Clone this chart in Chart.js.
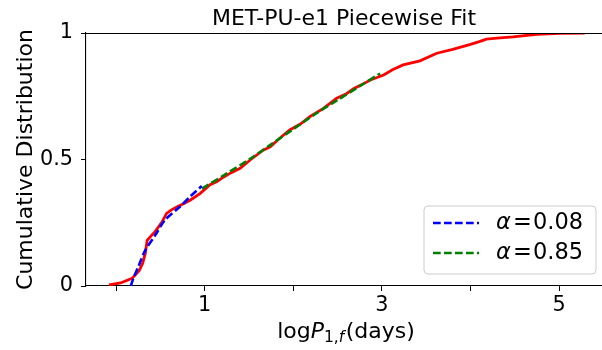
<!DOCTYPE html>
<html><head><meta charset="utf-8">
<script src="https://cdn.jsdelivr.net/npm/chart.js@4/dist/chart.umd.min.js"></script>
<style>html,body{margin:0;padding:0;background:#fff;}#wrap{width:602px;height:350px;position:relative;}</style>
</head><body><div id="wrap"><canvas id="c" width="602" height="350"></canvas></div>
<script>
const titleText = "MET-PU-e1 Piecewise Fit";
const yTitle = "Cumulative Distribution";
const xTicksShown = [1, 3, 5];
const yTickValues = [0, 0.5, 1];

const empX = [-0.08, 0.05, 0.18, 0.26, 0.30, 0.33, 0.35, 0.40, 0.44, 0.52, 0.57, 0.62, 0.69, 0.76, 0.84, 0.95, 1.06, 1.14, 1.21, 1.30, 1.40, 1.52, 1.66, 1.74, 1.85, 1.96, 2.08, 2.19, 2.34, 2.49, 2.60, 2.68, 2.78, 2.87, 3.02, 3.12, 3.24, 3.43, 3.62, 3.80, 4.00, 4.10, 4.18, 4.30, 4.48, 4.75, 5.01, 5.29];
const empY = [0.004, 0.012, 0.03, 0.06, 0.09, 0.13, 0.18, 0.20, 0.215, 0.254, 0.287, 0.30, 0.313, 0.325, 0.34, 0.366, 0.40, 0.413, 0.43, 0.448, 0.465, 0.50, 0.537, 0.55, 0.585, 0.617, 0.64, 0.67, 0.702, 0.742, 0.76, 0.78, 0.797, 0.814, 0.834, 0.855, 0.874, 0.89, 0.92, 0.935, 0.955, 0.966, 0.976, 0.98, 0.985, 0.995, 0.999, 1.0];

const fit1Label = "0.08";
const fit1X = [0.165, 0.20, 0.25, 0.33, 0.44, 0.55, 0.72, 0.835, 0.967];
const fit1Y = [0.0, 0.035, 0.076, 0.142, 0.20, 0.26, 0.313, 0.353, 0.395];

const fit2Label = "0.85";
const fit2X = [0.97, 1.25, 1.5, 1.75, 2.0, 2.25, 2.5, 2.75, 2.98];
const fit2Y = [0.385, 0.445, 0.50, 0.56, 0.62, 0.68, 0.735, 0.79, 0.84];

const pts = (xs, ys) => xs.map((x, i) => ({x: x, y: ys[i]}));
const FONT = "'DejaVu Sans', sans-serif";

const decor = {
  id: 'decor',
  afterDraw(chart) {
    const ctx = chart.ctx, a = chart.chartArea;
    ctx.save();
    ctx.strokeStyle = '#000'; ctx.lineWidth = 1.1;
    ctx.beginPath(); ctx.moveTo(a.left, a.top + 0.5); ctx.lineTo(a.right, a.top + 0.5); ctx.stroke();
    ctx.fillStyle = '#000';
    ctx.font = "22px " + FONT; ctx.textAlign = 'center'; ctx.textBaseline = 'alphabetic';
    ctx.fillText(titleText, (a.left + a.right) / 2, 25);
    ctx.save();
    ctx.translate(32, (a.top + a.bottom) / 2);
    ctx.rotate(-Math.PI / 2);
    ctx.font = "22px " + FONT; ctx.textAlign = 'center'; ctx.textBaseline = 'alphabetic';
    ctx.fillText(yTitle, 0, 0);
    ctx.restore();
    const parts = [
      {t: 'log', f: "22px " + FONT, dy: 0},
      {t: 'P', f: "italic 22px " + FONT, dy: 0},
      {t: '1,', f: "15.5px " + FONT, dy: 4},
      {t: 'f', f: "italic 15.5px " + FONT, dy: 4},
      {t: '(days)', f: "22px " + FONT, dy: 0}
    ];
    let total = 0;
    parts.forEach(p => { ctx.font = p.f; p.w = ctx.measureText(p.t).width; total += p.w; });
    total += 1.5;
    let x = (a.left + a.right) / 2 + 2 - total / 2;
    ctx.textAlign = 'left';
    parts.forEach(p => { ctx.font = p.f; ctx.fillText(p.t, x, 338 + p.dy); x += p.w + (p.t === 'f' ? 1.5 : 0); });
    const bx = 424, by = 206, bw = 172, bh = 68, r = 4;
    ctx.fillStyle = 'rgba(255,255,255,0.8)';
    ctx.strokeStyle = '#cccccc'; ctx.lineWidth = 1;
    ctx.beginPath();
    ctx.moveTo(bx + r, by); ctx.lineTo(bx + bw - r, by); ctx.quadraticCurveTo(bx + bw, by, bx + bw, by + r);
    ctx.lineTo(bx + bw, by + bh - r); ctx.quadraticCurveTo(bx + bw, by + bh, bx + bw - r, by + bh);
    ctx.lineTo(bx + r, by + bh); ctx.quadraticCurveTo(bx, by + bh, bx, by + bh - r);
    ctx.lineTo(bx, by + r); ctx.quadraticCurveTo(bx, by, bx + r, by);
    ctx.closePath(); ctx.fill(); ctx.stroke();
    const items = [
      {ds: chart.data.datasets[0], y: 223},
      {ds: chart.data.datasets[1], y: 253}
    ];
    items.forEach(it => {
      ctx.strokeStyle = it.ds.borderColor; ctx.lineWidth = it.ds.borderWidth;
      ctx.setLineDash(it.ds.borderDash);
      ctx.beginPath(); ctx.moveTo(433, it.y); ctx.lineTo(479, it.y); ctx.stroke();
      ctx.setLineDash([]);
      ctx.fillStyle = '#000'; ctx.textBaseline = 'middle'; ctx.textAlign = 'left';
      ctx.font = "italic 22.5px " + FONT; ctx.fillText('α', 496, it.y);
      ctx.font = "22.5px " + FONT; ctx.fillText('=', 513, it.y);
      ctx.fillText(it.ds.label, 533, it.y);
    });
    ctx.restore();
  }
};

new Chart(document.getElementById('c'), {
  type: 'scatter',
  data: {
    datasets: [
      {label: fit1Label, data: pts(fit1X, fit1Y), showLine: true, borderColor: '#0000ff', backgroundColor: '#0000ff', borderWidth: 2.6, borderDash: [7.7, 3.3], pointRadius: 0, tension: 0.3, order: 1},
      {label: fit2Label, data: pts(fit2X, fit2Y), showLine: true, borderColor: '#008000', backgroundColor: '#008000', borderWidth: 2.6, borderDash: [7.7, 3.3], pointRadius: 0, tension: 0.3, order: 2},
      {label: 'data', data: pts(empX, empY), showLine: true, borderColor: '#ff0000', backgroundColor: '#ff0000', borderWidth: 2.8, pointRadius: 0, tension: 0, order: 3}
    ]
  },
  options: {
    responsive: false, animation: false, devicePixelRatio: 1,
    layout: {padding: {top: 33, right: 0, left: 0, bottom: 0}},
    plugins: {legend: {display: false}, title: {display: false}, tooltip: {enabled: false}},
    scales: {
      x: {
        type: 'linear', min: -0.34, max: 5.485,
        afterFit: s => { s.height = 64; },
        afterBuildTicks: s => { s.ticks = [0, 1, 2, 3, 4, 5].map(v => ({value: v})); },
        ticks: {color: '#000', font: {family: FONT, size: 20.8}, padding: 2, maxRotation: 0, autoSkip: false,
          callback: v => xTicksShown.includes(v) ? String(v) : ''},
        grid: {drawOnChartArea: false, drawTicks: true, tickLength: 5, color: '#000', tickWidth: 1},
        border: {display: true, color: '#000', width: 1.1}
      },
      y: {
        type: 'linear', min: 0, max: 1,
        afterFit: s => { s.width = 86; },
        afterBuildTicks: s => { s.ticks = yTickValues.map(v => ({value: v})); },
        ticks: {color: '#000', font: {family: FONT, size: 20.8}, padding: 8,
          callback: v => String(v)},
        grid: {drawOnChartArea: false, drawTicks: true, tickLength: 5, color: '#000', tickWidth: 1},
        border: {display: true, color: '#000', width: 1.1}
      }
    }
  },
  plugins: [decor]
});
</script>
</body></html>
